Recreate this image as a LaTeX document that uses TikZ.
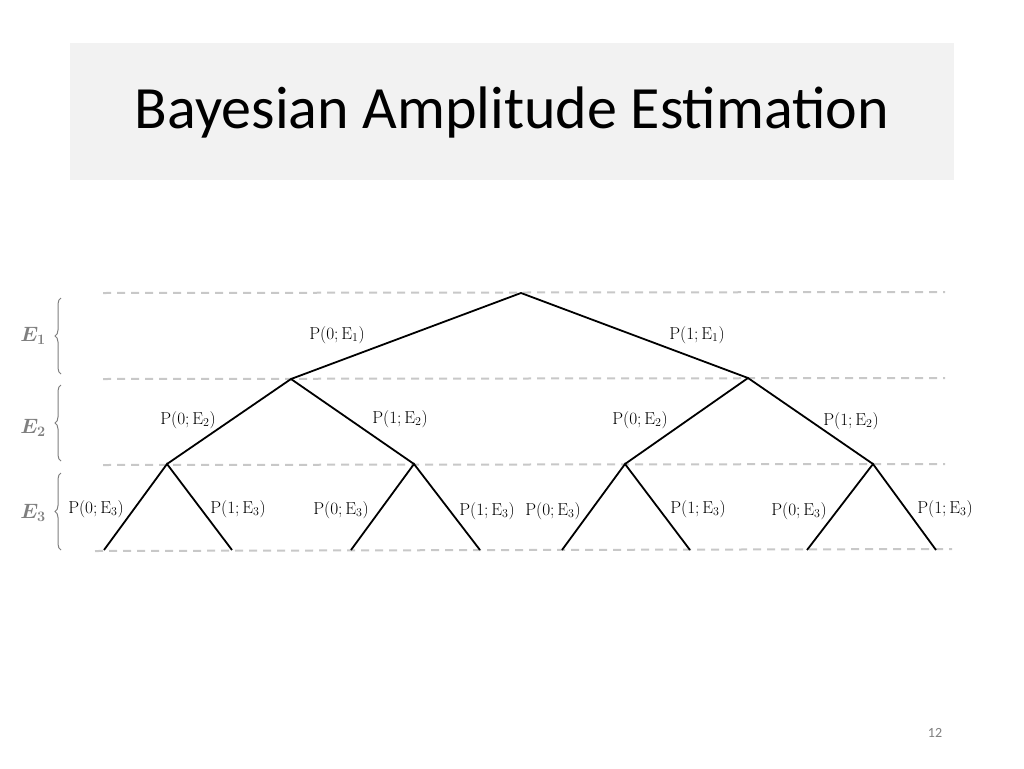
\documentclass[tikz,border=0pt]{standalone}
\usepackage{amsmath}
\usepackage[no-math]{fontspec}
\setmainfont{Carlito}
\usetikzlibrary{decorations.pathreplacing}
\definecolor{titlebg}{HTML}{F2F2F2}
\definecolor{dashgray}{HTML}{C8C8C8}
\definecolor{bracegray}{HTML}{7F7F7F}
\tikzset{
  level/.style={draw=dashgray, line width=2pt, dash pattern=on 8pt off 6pt},
  branch/.style={draw=black, line width=1.8pt},
  plabel/.style={inner sep=0pt, font=\fontsize{17.5}{20}\selectfont},
  bracket/.style={draw=bracegray, line width=1pt, decorate, decoration={brace, amplitude=6pt}},
  elabel/.style={inner sep=0pt, text=bracegray, font=\fontsize{20}{23}\selectfont}
}
\begin{document}
\begin{tikzpicture}[x=1pt,y=-1pt]
\useasboundingbox (0,0) rectangle (1024,768);
\fill[white] (0,0) rectangle (1024,768);
% title
\fill[titlebg] (70,43) rectangle (954,180);
\node[inner sep=0pt, anchor=base, font=\fontsize{60}{70}\selectfont] (title) at (512,128) {Bayesian Amplitude Estimation};
% dashed levels
\coordinate (l0a) at (103,293); \coordinate (l0b) at (945,292);
\coordinate (l1a) at (103,379); \coordinate (l1b) at (945,378);
\coordinate (l2a) at (103,465); \coordinate (l2b) at (945,464);
\coordinate (l3a) at (95,551); \coordinate (l3b) at (952,549);
\draw[level] (l0a) -- (l0b);
\draw[level] (l1a) -- (l1b);
\draw[level] (l2a) -- (l2b);
\draw[level] (l3a) -- (l3b);
% tree
\coordinate (r) at (521,293);
\coordinate (a) at (291,379);
\coordinate (b) at (748,378);
\coordinate (aa) at (167,464);
\coordinate (ab) at (414,464);
\coordinate (ba) at (625,464);
\coordinate (bb) at (873,464);
\coordinate (aaa) at (104,550); \coordinate (aab) at (232,550);
\coordinate (aba) at (351,550); \coordinate (abb) at (480,550);
\coordinate (baa) at (562,550); \coordinate (bab) at (690,550);
\coordinate (bba) at (807,550); \coordinate (bbb) at (936,550);
\draw[branch] (a) -- (r) -- (b);
\draw[branch] (aa) -- (a) -- (ab);
\draw[branch] (ba) -- (b) -- (bb);
\draw[branch] (aaa) -- (aa) -- (aab);
\draw[branch] (aba) -- (ab) -- (abb);
\draw[branch] (baa) -- (ba) -- (bab);
\draw[branch] (bba) -- (bb) -- (bbb);
% labels
\node[plabel] (p01) at (337,335) {$\mathrm{P}(0;\mathrm{E}_1)$};
\node[plabel] (p11) at (697,335) {$\mathrm{P}(1;\mathrm{E}_1)$};
\node[plabel] (p02a) at (188,420) {$\mathrm{P}(0;\mathrm{E}_2)$};
\node[plabel] (p12a) at (400,419) {$\mathrm{P}(1;\mathrm{E}_2)$};
\node[plabel] (p02b) at (640,420) {$\mathrm{P}(0;\mathrm{E}_2)$};
\node[plabel] (p12b) at (851,421) {$\mathrm{P}(1;\mathrm{E}_2)$};
\node[plabel] (p03a) at (96,509) {$\mathrm{P}(0;\mathrm{E}_3)$};
\node[plabel] (p13a) at (238,509) {$\mathrm{P}(1;\mathrm{E}_3)$};
\node[plabel] (p03b) at (341,510) {$\mathrm{P}(0;\mathrm{E}_3)$};
\node[plabel] (p13b) at (487,511) {$\mathrm{P}(1;\mathrm{E}_3)$};
\node[plabel] (p03c) at (553,511) {$\mathrm{P}(0;\mathrm{E}_3)$};
\node[plabel] (p13c) at (698,509) {$\mathrm{P}(1;\mathrm{E}_3)$};
\node[plabel] (p03d) at (799,511) {$\mathrm{P}(0;\mathrm{E}_3)$};
\node[plabel] (p13d) at (945,509) {$\mathrm{P}(1;\mathrm{E}_3)$};
% braces
\coordinate (b1t) at (61,298); \coordinate (b1b) at (61,374);
\coordinate (b2t) at (61,385); \coordinate (b2b) at (61,461);
\coordinate (b3t) at (61,473); \coordinate (b3b) at (61,550);
\draw[bracket] (b1b) -- (b1t);
\draw[bracket] (b2b) -- (b2t);
\draw[bracket] (b3b) -- (b3t);
\node[elabel] (e1) at (33,336) {$\boldsymbol{E_1}$};
\node[elabel] (e2) at (33,428) {$\boldsymbol{E_2}$};
\node[elabel] (e3) at (33,513) {$\boldsymbol{E_3}$};
% page number
\node[inner sep=0pt, text=bracegray, font=\fontsize{14}{16}\selectfont] (pg) at (935,733) {12};
\end{tikzpicture}
\end{document}
